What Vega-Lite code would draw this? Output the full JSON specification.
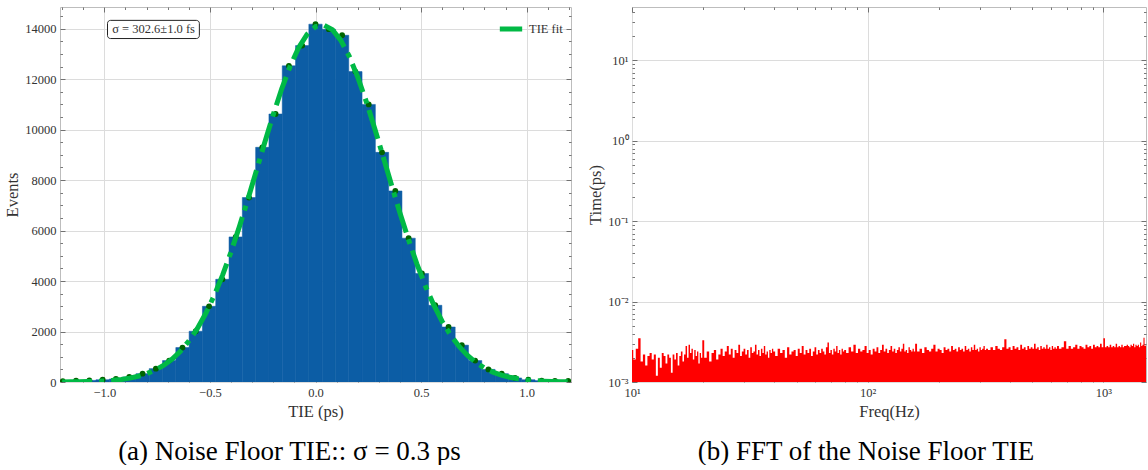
{
  "$schema": "https://vega.github.io/schema/vega-lite/v6.json",
  "padding": {"left": 4, "top": 5, "right": 0, "bottom": 0},
  "background": "white",
  "spacing": 61,
  "bounds": "flush",
  "resolve": {"legend": {"color": "independent"}, "scale": {"color": "independent"}},
  "config": {
    "view": {"stroke": "#bdbdbd", "strokeWidth": 1},
    "font": "Liberation Serif",
    "axis": {
      "labelFont": "Liberation Serif", "titleFont": "Liberation Serif",
      "labelFontSize": 12.5, "titleFontSize": 16.5, "titleFontWeight": "normal",
      "labelColor": "#333333", "titleColor": "#333333",
      "gridColor": "#dcdcdc", "gridWidth": 1, "tickColor": "#555555", "tickWidth": 0.8,
      "domain": false, "labelOverlap": false, "labelFlush": false, "labelPadding": 9
    },
    "title": {"font": "Liberation Serif", "fontSize": 27, "fontWeight": "normal", "color": "#000000", "orient": "bottom", "offset": 19}
  },
  "datasets": {
    "hist": [
      {"c": -1.197, "lo": -1.2285, "hi": -1.1655, "count": 30},
      {"c": -1.134, "lo": -1.1655, "hi": -1.1025, "count": 50},
      {"c": -1.071, "lo": -1.1025, "hi": -1.0395, "count": 65},
      {"c": -1.008, "lo": -1.0395, "hi": -0.9765, "count": 90},
      {"c": -0.945, "lo": -0.9765, "hi": -0.9135, "count": 120},
      {"c": -0.882, "lo": -0.9135, "hi": -0.8505, "count": 200},
      {"c": -0.819, "lo": -0.8505, "hi": -0.7875, "count": 330},
      {"c": -0.756, "lo": -0.7875, "hi": -0.7245, "count": 530},
      {"c": -0.693, "lo": -0.7245, "hi": -0.6615, "count": 850},
      {"c": -0.63, "lo": -0.6615, "hi": -0.5985, "count": 1365},
      {"c": -0.567, "lo": -0.5985, "hi": -0.5355, "count": 2010},
      {"c": -0.504, "lo": -0.5355, "hi": -0.4725, "count": 3000},
      {"c": -0.441, "lo": -0.4725, "hi": -0.4095, "count": 4070},
      {"c": -0.378, "lo": -0.4095, "hi": -0.3465, "count": 5750},
      {"c": -0.315, "lo": -0.3465, "hi": -0.2835, "count": 7310},
      {"c": -0.252, "lo": -0.2835, "hi": -0.2205, "count": 9300},
      {"c": -0.189, "lo": -0.2205, "hi": -0.1575, "count": 10620},
      {"c": -0.126, "lo": -0.1575, "hi": -0.0945, "count": 12530},
      {"c": -0.063, "lo": -0.0945, "hi": -0.0315, "count": 13330},
      {"c": 0, "lo": -0.0315, "hi": 0.0315, "count": 14180},
      {"c": 0.063, "lo": 0.0315, "hi": 0.0945, "count": 13980},
      {"c": 0.126, "lo": 0.0945, "hi": 0.1575, "count": 13740},
      {"c": 0.189, "lo": 0.1575, "hi": 0.2205, "count": 12300},
      {"c": 0.252, "lo": 0.2205, "hi": 0.2835, "count": 11000},
      {"c": 0.315, "lo": 0.2835, "hi": 0.3465, "count": 9100},
      {"c": 0.378, "lo": 0.3465, "hi": 0.4095, "count": 7570},
      {"c": 0.441, "lo": 0.4095, "hi": 0.4725, "count": 5700},
      {"c": 0.504, "lo": 0.4725, "hi": 0.5355, "count": 4300},
      {"c": 0.567, "lo": 0.5355, "hi": 0.5985, "count": 3040},
      {"c": 0.63, "lo": 0.5985, "hi": 0.6615, "count": 2180},
      {"c": 0.693, "lo": 0.6615, "hi": 0.7245, "count": 1460},
      {"c": 0.756, "lo": 0.7245, "hi": 0.7875, "count": 850},
      {"c": 0.819, "lo": 0.7875, "hi": 0.8505, "count": 500},
      {"c": 0.882, "lo": 0.8505, "hi": 0.9135, "count": 330},
      {"c": 0.945, "lo": 0.9135, "hi": 0.9765, "count": 160},
      {"c": 1.008, "lo": 0.9765, "hi": 1.0395, "count": 90},
      {"c": 1.071, "lo": 1.0395, "hi": 1.1025, "count": 55},
      {"c": 1.134, "lo": 1.1025, "hi": 1.1655, "count": 45},
      {"c": 1.197, "lo": 1.1655, "hi": 1.2285, "count": 40}
    ],
    "fit": [
      {"t": -1.2, "g": 3.7}, {"t": -1.16, "g": 6.2}, {"t": -1.12, "g": 10.3}, {"t": -1.08, "g": 16.9},
      {"t": -1.04, "g": 27.3}, {"t": -1.0, "g": 43.1}, {"t": -0.96, "g": 67.0}, {"t": -0.92, "g": 102.5},
      {"t": -0.88, "g": 153.8}, {"t": -0.84, "g": 226.9}, {"t": -0.8, "g": 328.9}, {"t": -0.76, "g": 468.5},
      {"t": -0.72, "g": 655.7}, {"t": -0.68, "g": 901.9}, {"t": -0.64, "g": 1219.9}, {"t": -0.6, "g": 1620.5},
      {"t": -0.56, "g": 2114}, {"t": -0.52, "g": 2713}, {"t": -0.48, "g": 3420}, {"t": -0.44, "g": 4237},
      {"t": -0.4, "g": 5155}, {"t": -0.36, "g": 6167}, {"t": -0.32, "g": 7248}, {"t": -0.28, "g": 8372},
      {"t": -0.24, "g": 9503}, {"t": -0.2, "g": 10600}, {"t": -0.16, "g": 11619}, {"t": -0.12, "g": 12514},
      {"t": -0.08, "g": 13245}, {"t": -0.04, "g": 13776}, {"t": 0.0, "g": 14081}, {"t": 0.04, "g": 14142},
      {"t": 0.08, "g": 13958}, {"t": 0.12, "g": 13538}, {"t": 0.16, "g": 12903}, {"t": 0.2, "g": 12084},
      {"t": 0.24, "g": 11122}, {"t": 0.28, "g": 10058}, {"t": 0.32, "g": 8940}, {"t": 0.36, "g": 7807},
      {"t": 0.4, "g": 6700}, {"t": 0.44, "g": 5651}, {"t": 0.48, "g": 4684}, {"t": 0.52, "g": 3814},
      {"t": 0.56, "g": 3052}, {"t": 0.6, "g": 2400}, {"t": 0.64, "g": 1855}, {"t": 0.68, "g": 1409},
      {"t": 0.72, "g": 1051}, {"t": 0.76, "g": 771}, {"t": 0.8, "g": 555.5}, {"t": 0.84, "g": 393.4},
      {"t": 0.88, "g": 273.8}, {"t": 0.92, "g": 187.2}, {"t": 0.96, "g": 125.8}, {"t": 1.0, "g": 83.0},
      {"t": 1.04, "g": 53.9}, {"t": 1.08, "g": 34.4}, {"t": 1.12, "g": 21.6}, {"t": 1.16, "g": 13.3},
      {"t": 1.2, "g": 8.0}
    ],
    "fft": [
      {"freq": 10, "amp": 0.0025}, {"freq": 10.25, "amp": 0.0019}, {"freq": 10.5, "amp": 0.0026}, {"freq": 10.75, "amp": 0.0035},
      {"freq": 11, "amp": 0.0018}, {"freq": 11.25, "amp": 0.0022}, {"freq": 11.5, "amp": 0.0016}, {"freq": 11.75, "amp": 0.0021},
      {"freq": 12, "amp": 0.0023}, {"freq": 12.25, "amp": 0.0019}, {"freq": 12.5, "amp": 0.0022}, {"freq": 12.75, "amp": 0.0012},
      {"freq": 13, "amp": 0.002}, {"freq": 13.25, "amp": 0.0015}, {"freq": 13.5, "amp": 0.0023}, {"freq": 13.75, "amp": 0.0021},
      {"freq": 14, "amp": 0.0017}, {"freq": 14.25, "amp": 0.0022}, {"freq": 14.5, "amp": 0.002}, {"freq": 14.75, "amp": 0.0013},
      {"freq": 15, "amp": 0.0022}, {"freq": 15.25, "amp": 0.0019}, {"freq": 15.5, "amp": 0.0023}, {"freq": 15.75, "amp": 0.0016},
      {"freq": 16, "amp": 0.0021}, {"freq": 16.25, "amp": 0.0024}, {"freq": 16.5, "amp": 0.0018}, {"freq": 16.75, "amp": 0.0022},
      {"freq": 17, "amp": 0.0028}, {"freq": 17.25, "amp": 0.002}, {"freq": 17.5, "amp": 0.0029}, {"freq": 17.75, "amp": 0.0023},
      {"freq": 18, "amp": 0.0026}, {"freq": 18.25, "amp": 0.0019}, {"freq": 18.5, "amp": 0.0025}, {"freq": 18.75, "amp": 0.0021},
      {"freq": 19, "amp": 0.0024}, {"freq": 19.25, "amp": 0.0017}, {"freq": 19.5, "amp": 0.0023}, {"freq": 19.75, "amp": 0.002},
      {"freq": 20, "amp": 0.0033}, {"freq": 20.5, "amp": 0.002}, {"freq": 21, "amp": 0.0024}, {"freq": 21.5, "amp": 0.0018},
      {"freq": 22, "amp": 0.0023}, {"freq": 22.5, "amp": 0.0025}, {"freq": 23, "amp": 0.0019}, {"freq": 23.5, "amp": 0.0022},
      {"freq": 24, "amp": 0.0026}, {"freq": 24.5, "amp": 0.0021}, {"freq": 25, "amp": 0.0024}, {"freq": 25.5, "amp": 0.0028},
      {"freq": 26, "amp": 0.0022}, {"freq": 26.5, "amp": 0.0026}, {"freq": 27, "amp": 0.002}, {"freq": 27.5, "amp": 0.0025},
      {"freq": 28, "amp": 0.0023}, {"freq": 28.5, "amp": 0.0029}, {"freq": 29, "amp": 0.0021}, {"freq": 29.5, "amp": 0.0024},
      {"freq": 30, "amp": 0.0026}, {"freq": 30.5, "amp": 0.0022}, {"freq": 31, "amp": 0.0025}, {"freq": 31.5, "amp": 0.002},
      {"freq": 32, "amp": 0.0027}, {"freq": 32.5, "amp": 0.0023}, {"freq": 33, "amp": 0.0024}, {"freq": 33.5, "amp": 0.0029},
      {"freq": 34, "amp": 0.0022}, {"freq": 34.5, "amp": 0.0025}, {"freq": 35, "amp": 0.0021}, {"freq": 35.5, "amp": 0.0026},
      {"freq": 36, "amp": 0.0023}, {"freq": 36.5, "amp": 0.0028}, {"freq": 37, "amp": 0.0022}, {"freq": 37.5, "amp": 0.0024},
      {"freq": 38, "amp": 0.002}, {"freq": 38.5, "amp": 0.0025}, {"freq": 39, "amp": 0.0023}, {"freq": 39.5, "amp": 0.0026},
      {"freq": 40, "amp": 0.0024}, {"freq": 41, "amp": 0.0021}, {"freq": 42, "amp": 0.0026}, {"freq": 43, "amp": 0.0023},
      {"freq": 44, "amp": 0.0025}, {"freq": 45, "amp": 0.002}, {"freq": 46, "amp": 0.0027}, {"freq": 47, "amp": 0.0022},
      {"freq": 48, "amp": 0.0024}, {"freq": 49, "amp": 0.0025}, {"freq": 50, "amp": 0.0021}, {"freq": 51, "amp": 0.0026},
      {"freq": 52, "amp": 0.0023}, {"freq": 53, "amp": 0.0028}, {"freq": 54, "amp": 0.0022}, {"freq": 55, "amp": 0.0025},
      {"freq": 56, "amp": 0.0023}, {"freq": 57, "amp": 0.0026}, {"freq": 58, "amp": 0.0021}, {"freq": 59, "amp": 0.0024},
      {"freq": 60, "amp": 0.0027}, {"freq": 61, "amp": 0.0022}, {"freq": 62, "amp": 0.0025}, {"freq": 63, "amp": 0.0023},
      {"freq": 64, "amp": 0.0026}, {"freq": 65, "amp": 0.0024}, {"freq": 66, "amp": 0.0022}, {"freq": 67, "amp": 0.0027},
      {"freq": 68, "amp": 0.0031}, {"freq": 69, "amp": 0.0023}, {"freq": 70, "amp": 0.0025}, {"freq": 71, "amp": 0.0022},
      {"freq": 72, "amp": 0.0026}, {"freq": 73, "amp": 0.0024}, {"freq": 74, "amp": 0.0028}, {"freq": 75, "amp": 0.0023},
      {"freq": 76, "amp": 0.0025}, {"freq": 77, "amp": 0.0022}, {"freq": 78, "amp": 0.0026}, {"freq": 79, "amp": 0.0024},
      {"freq": 80, "amp": 0.0025}, {"freq": 82, "amp": 0.0023}, {"freq": 84, "amp": 0.0027}, {"freq": 86, "amp": 0.0024},
      {"freq": 88, "amp": 0.0029}, {"freq": 90, "amp": 0.0023}, {"freq": 92, "amp": 0.0026}, {"freq": 94, "amp": 0.0024},
      {"freq": 96, "amp": 0.0025}, {"freq": 98, "amp": 0.0028}, {"freq": 100, "amp": 0.0023}, {"freq": 102, "amp": 0.0025},
      {"freq": 104, "amp": 0.0022}, {"freq": 106, "amp": 0.0026}, {"freq": 108, "amp": 0.0024}, {"freq": 110, "amp": 0.0027},
      {"freq": 112, "amp": 0.0023}, {"freq": 114, "amp": 0.0025}, {"freq": 116, "amp": 0.0029}, {"freq": 118, "amp": 0.0024},
      {"freq": 120, "amp": 0.0026}, {"freq": 122, "amp": 0.0023}, {"freq": 124, "amp": 0.0025}, {"freq": 126, "amp": 0.0028},
      {"freq": 128, "amp": 0.0024}, {"freq": 130, "amp": 0.0026}, {"freq": 132, "amp": 0.0023}, {"freq": 134, "amp": 0.0025},
      {"freq": 136, "amp": 0.0027}, {"freq": 138, "amp": 0.0024}, {"freq": 140, "amp": 0.0026}, {"freq": 142, "amp": 0.003},
      {"freq": 144, "amp": 0.0024}, {"freq": 146, "amp": 0.0025}, {"freq": 148, "amp": 0.0023}, {"freq": 150, "amp": 0.0027},
      {"freq": 152, "amp": 0.0025}, {"freq": 154, "amp": 0.0024}, {"freq": 156, "amp": 0.0026}, {"freq": 158, "amp": 0.0024},
      {"freq": 160, "amp": 0.003}, {"freq": 164, "amp": 0.0024}, {"freq": 168, "amp": 0.0026}, {"freq": 172, "amp": 0.0023},
      {"freq": 176, "amp": 0.0027}, {"freq": 180, "amp": 0.0025}, {"freq": 184, "amp": 0.0024}, {"freq": 188, "amp": 0.0026},
      {"freq": 192, "amp": 0.0029}, {"freq": 196, "amp": 0.0024}, {"freq": 200, "amp": 0.0026}, {"freq": 204, "amp": 0.0025},
      {"freq": 208, "amp": 0.0023}, {"freq": 212, "amp": 0.0027}, {"freq": 216, "amp": 0.0025}, {"freq": 220, "amp": 0.0026},
      {"freq": 224, "amp": 0.0024}, {"freq": 228, "amp": 0.0028}, {"freq": 232, "amp": 0.0025}, {"freq": 236, "amp": 0.0026},
      {"freq": 240, "amp": 0.0024}, {"freq": 244, "amp": 0.0027}, {"freq": 248, "amp": 0.0025}, {"freq": 252, "amp": 0.0026},
      {"freq": 256, "amp": 0.0024}, {"freq": 260, "amp": 0.0028}, {"freq": 264, "amp": 0.0025}, {"freq": 268, "amp": 0.0026},
      {"freq": 272, "amp": 0.0024}, {"freq": 276, "amp": 0.0027}, {"freq": 280, "amp": 0.0025}, {"freq": 284, "amp": 0.0029},
      {"freq": 288, "amp": 0.0025}, {"freq": 292, "amp": 0.0026}, {"freq": 296, "amp": 0.0024}, {"freq": 300, "amp": 0.0027},
      {"freq": 304, "amp": 0.0025}, {"freq": 308, "amp": 0.0026}, {"freq": 312, "amp": 0.0028}, {"freq": 316, "amp": 0.0025},
      {"freq": 320, "amp": 0.0026}, {"freq": 328, "amp": 0.0025}, {"freq": 336, "amp": 0.0027}, {"freq": 344, "amp": 0.0025},
      {"freq": 352, "amp": 0.0028}, {"freq": 360, "amp": 0.0026}, {"freq": 368, "amp": 0.0025}, {"freq": 376, "amp": 0.0027},
      {"freq": 384, "amp": 0.0034}, {"freq": 392, "amp": 0.0026}, {"freq": 400, "amp": 0.0027}, {"freq": 408, "amp": 0.0025},
      {"freq": 416, "amp": 0.0028}, {"freq": 424, "amp": 0.0026}, {"freq": 432, "amp": 0.0027}, {"freq": 440, "amp": 0.0025},
      {"freq": 448, "amp": 0.0029}, {"freq": 456, "amp": 0.0026}, {"freq": 464, "amp": 0.0027}, {"freq": 472, "amp": 0.0025},
      {"freq": 480, "amp": 0.0028}, {"freq": 488, "amp": 0.0026}, {"freq": 496, "amp": 0.0027}, {"freq": 504, "amp": 0.0026},
      {"freq": 512, "amp": 0.003}, {"freq": 520, "amp": 0.0026}, {"freq": 528, "amp": 0.0027}, {"freq": 536, "amp": 0.0025},
      {"freq": 544, "amp": 0.0028}, {"freq": 552, "amp": 0.0026}, {"freq": 560, "amp": 0.0027}, {"freq": 568, "amp": 0.0026},
      {"freq": 576, "amp": 0.0029}, {"freq": 584, "amp": 0.0026}, {"freq": 592, "amp": 0.0027}, {"freq": 600, "amp": 0.0025},
      {"freq": 608, "amp": 0.0028}, {"freq": 616, "amp": 0.0026}, {"freq": 624, "amp": 0.0027}, {"freq": 632, "amp": 0.0026},
      {"freq": 640, "amp": 0.0028}, {"freq": 656, "amp": 0.0026}, {"freq": 672, "amp": 0.0027}, {"freq": 688, "amp": 0.0032},
      {"freq": 704, "amp": 0.0026}, {"freq": 720, "amp": 0.0028}, {"freq": 736, "amp": 0.0026}, {"freq": 752, "amp": 0.0027},
      {"freq": 768, "amp": 0.0029}, {"freq": 784, "amp": 0.0026}, {"freq": 800, "amp": 0.0028}, {"freq": 816, "amp": 0.0027},
      {"freq": 832, "amp": 0.0026}, {"freq": 848, "amp": 0.0029}, {"freq": 864, "amp": 0.0027}, {"freq": 880, "amp": 0.0028},
      {"freq": 896, "amp": 0.0026}, {"freq": 912, "amp": 0.0029}, {"freq": 928, "amp": 0.0027}, {"freq": 944, "amp": 0.0028},
      {"freq": 960, "amp": 0.0027}, {"freq": 976, "amp": 0.003}, {"freq": 992, "amp": 0.0027}, {"freq": 1008, "amp": 0.0035},
      {"freq": 1024, "amp": 0.0027}, {"freq": 1040, "amp": 0.0028}, {"freq": 1056, "amp": 0.0027}, {"freq": 1072, "amp": 0.0029},
      {"freq": 1088, "amp": 0.0027}, {"freq": 1104, "amp": 0.0028}, {"freq": 1120, "amp": 0.0027}, {"freq": 1136, "amp": 0.003},
      {"freq": 1152, "amp": 0.0027}, {"freq": 1168, "amp": 0.0028}, {"freq": 1184, "amp": 0.0027}, {"freq": 1200, "amp": 0.0029},
      {"freq": 1216, "amp": 0.0027}, {"freq": 1232, "amp": 0.0028}, {"freq": 1248, "amp": 0.0028}, {"freq": 1264, "amp": 0.0029},
      {"freq": 1280, "amp": 0.0028}, {"freq": 1296, "amp": 0.0027}, {"freq": 1312, "amp": 0.0029}, {"freq": 1328, "amp": 0.0028},
      {"freq": 1344, "amp": 0.003}, {"freq": 1360, "amp": 0.0027}, {"freq": 1376, "amp": 0.0029}, {"freq": 1392, "amp": 0.0028},
      {"freq": 1408, "amp": 0.0029}, {"freq": 1424, "amp": 0.0027}, {"freq": 1440, "amp": 0.0031}, {"freq": 1456, "amp": 0.0028},
      {"freq": 1472, "amp": 0.0029}, {"freq": 1488, "amp": 0.00355}, {"freq": 1504, "amp": 0.0028}, {"freq": 1520, "amp": 0.0029},
      {"freq": 1536, "amp": 0.0028}
    ],
    "note": [{"label": "σ = 302.6±1.0 fs"}]
  },
  "hconcat": [
    {
      "width": 511,
      "height": 375,
      "title": {"text": "(a) Noise Floor TIE:: σ = 0.3 ps", "dx": -26},
      "resolve": {"axis": {"x": "independent", "y": "independent"}},
      "layer": [
        {
          "data": {"name": "hist"},
          "mark": {"type": "rect", "color": "#0C5DA5", "stroke": "#0C5DA5", "strokeWidth": 0.5, "clip": true},
          "encoding": {
            "x": {"field": "lo", "type": "quantitative",
              "scale": {"domain": [-1.21, 1.21], "nice": false, "zero": false},
              "axis": {"orient": "bottom", "title": "TIE (ps)", "titlePadding": 2,
                "values": [-1.2,-1.1,-1,-0.9,-0.8,-0.7,-0.6,-0.5,-0.4,-0.3,-0.2,-0.1,0,0.1,0.2,0.3,0.4,0.5,0.6,0.7,0.8,0.9,1,1.1,1.2],
                "labelExpr": "abs(datum.value*2 - round(datum.value*2)) < 0.001 ? format(datum.value, '.1f') : ''",
                "tickSize": {"condition": {"test": "abs(datum.value*2 - round(datum.value*2)) < 0.001", "value": -5}, "value": -2.5},
                "gridOpacity": {"condition": {"test": "abs(datum.value*2 - round(datum.value*2)) < 0.001", "value": 1}, "value": 0}}},
            "x2": {"field": "hi"},
            "y": {"field": "count", "type": "quantitative",
              "scale": {"domain": [0, 14860], "nice": false},
              "axis": {"orient": "left", "title": "Events", "titlePadding": 4,
                "values": [0,500,1000,1500,2000,2500,3000,3500,4000,4500,5000,5500,6000,6500,7000,7500,8000,8500,9000,9500,10000,10500,11000,11500,12000,12500,13000,13500,14000,14500],
                "labelExpr": "datum.value % 2000 == 0 ? format(datum.value, 'd') : ''",
                "tickSize": {"condition": {"test": "datum.value % 2000 == 0", "value": -5}, "value": -2.5},
                "gridOpacity": {"condition": {"test": "datum.value % 2000 == 0", "value": 1}, "value": 0}}},
            "y2": {"datum": 0}
          }
        },
        {
          "data": {"name": "hist"},
          "mark": {"type": "circle", "color": "#006400", "size": 34, "opacity": 1, "clip": true},
          "encoding": {
            "x": {"field": "c", "type": "quantitative",
              "axis": {"orient": "top", "labels": false, "title": null, "grid": false,
                "values": [-1.2,-1.1,-1,-0.9,-0.8,-0.7,-0.6,-0.5,-0.4,-0.3,-0.2,-0.1,0,0.1,0.2,0.3,0.4,0.5,0.6,0.7,0.8,0.9,1,1.1,1.2],
                "tickSize": {"condition": {"test": "abs(datum.value*2 - round(datum.value*2)) < 0.001", "value": -5}, "value": -2.5}}},
            "y": {"field": "count", "type": "quantitative",
              "axis": {"orient": "right", "labels": false, "title": null, "grid": false,
                "values": [0,500,1000,1500,2000,2500,3000,3500,4000,4500,5000,5500,6000,6500,7000,7500,8000,8500,9000,9500,10000,10500,11000,11500,12000,12500,13000,13500,14000,14500],
                "tickSize": {"condition": {"test": "datum.value % 2000 == 0", "value": -5}, "value": -2.5}}}
          }
        },
        {
          "data": {"name": "fit"},
          "mark": {"type": "line", "strokeWidth": 5, "strokeDash": [30, 7, 5, 7], "clip": true},
          "encoding": {
            "x": {"field": "t", "type": "quantitative", "axis": null},
            "y": {"field": "g", "type": "quantitative", "axis": null},
            "color": {"datum": "TIE fit", "type": "nominal",
              "scale": {"range": ["#00B945"]},
              "legend": {"orient": "top-right", "title": null, "symbolType": "stroke", "symbolStrokeWidth": 5,
                "symbolSize": 500, "symbolDash": [1, 0], "labelFont": "Liberation Serif", "labelFontSize": 12.5,
                "labelColor": "#333333", "offset": 6, "padding": 2}}
          }
        },
        {
          "data": {"name": "note"},
          "mark": {"type": "rect", "fill": "white", "stroke": "#222222", "strokeWidth": 1, "cornerRadius": 3},
          "encoding": {
            "x": {"datum": -0.985, "type": "quantitative", "axis": null},
            "x2": {"datum": -0.55},
            "y": {"datum": 14330, "type": "quantitative", "axis": null},
            "y2": {"datum": 13610}
          }
        },
        {
          "data": {"name": "note"},
          "mark": {"type": "text", "fontSize": 12.5, "font": "Liberation Serif", "color": "#333333", "align": "center", "baseline": "middle"},
          "encoding": {
            "x": {"datum": -0.767, "type": "quantitative", "axis": null},
            "y": {"datum": 13970, "type": "quantitative", "axis": null},
            "text": {"field": "label"}
          }
        }
      ]
    },
    {
      "width": 514,
      "height": 375,
      "title": {"text": "(b) FFT of the Noise Floor TIE", "dx": -23},
      "resolve": {"axis": {"x": "independent", "y": "independent"}},
      "layer": [
        {
          "data": {"name": "fft"},
          "mark": {"type": "area", "color": "#FF0000", "clip": true, "interpolate": "step"},
          "encoding": {
            "x": {"field": "freq", "type": "quantitative",
              "scale": {"type": "log", "domain": [10, 1517], "nice": false},
              "axis": {"orient": "bottom", "title": "Freq(Hz)", "titlePadding": 2,
                "values": [10,20,30,40,50,60,70,80,90,100,200,300,400,500,600,700,800,900,1000],
                "labelExpr": "datum.value == 10 ? '10¹' : datum.value == 100 ? '10²' : datum.value == 1000 ? '10³' : ''",
                "tickSize": {"condition": {"test": "indexof([10,100,1000], datum.value) >= 0", "value": -5}, "value": -2.5},
                "gridOpacity": {"condition": {"test": "indexof([10,100,1000], datum.value) >= 0", "value": 1}, "value": 0}}},
            "y": {"field": "amp", "type": "quantitative",
              "scale": {"type": "log", "domain": [0.001, 46], "nice": false},
              "axis": {"orient": "left", "title": "Time(ps)", "titlePadding": 4,
                "values": [0.001,0.002,0.003,0.004,0.005,0.006,0.007,0.008,0.009,0.01,0.02,0.03,0.04,0.05,0.06,0.07,0.08,0.09,0.1,0.2,0.3,0.4,0.5,0.6,0.7,0.8,0.9,1,2,3,4,5,6,7,8,9,10,20,30,40],
                "labelExpr": "datum.value == 0.001 ? '10⁻³' : datum.value == 0.01 ? '10⁻²' : datum.value == 0.1 ? '10⁻¹' : datum.value == 1 ? '10⁰' : datum.value == 10 ? '10¹' : ''",
                "tickSize": {"condition": {"test": "indexof([0.001,0.01,0.1,1,10], datum.value) >= 0", "value": -5}, "value": -2.5},
                "gridOpacity": {"condition": {"test": "indexof([0.001,0.01,0.1,1,10], datum.value) >= 0", "value": 1}, "value": 0}}},
            "y2": {"datum": 0.001}
          }
        },
        {
          "data": {"name": "fft"},
          "mark": {"type": "point", "opacity": 0},
          "encoding": {
            "x": {"field": "freq", "type": "quantitative",
              "axis": {"orient": "top", "labels": false, "title": null, "grid": false,
                "values": [10,20,30,40,50,60,70,80,90,100,200,300,400,500,600,700,800,900,1000],
                "tickSize": {"condition": {"test": "indexof([10,100,1000], datum.value) >= 0", "value": -5}, "value": -2.5}}},
            "y": {"field": "amp", "type": "quantitative",
              "axis": {"orient": "right", "labels": false, "title": null, "grid": false,
                "values": [0.001,0.002,0.003,0.004,0.005,0.006,0.007,0.008,0.009,0.01,0.02,0.03,0.04,0.05,0.06,0.07,0.08,0.09,0.1,0.2,0.3,0.4,0.5,0.6,0.7,0.8,0.9,1,2,3,4,5,6,7,8,9,10,20,30,40],
                "tickSize": {"condition": {"test": "indexof([0.001,0.01,0.1,1,10], datum.value) >= 0", "value": -5}, "value": -2.5}}}
          }
        }
      ]
    }
  ]
}
